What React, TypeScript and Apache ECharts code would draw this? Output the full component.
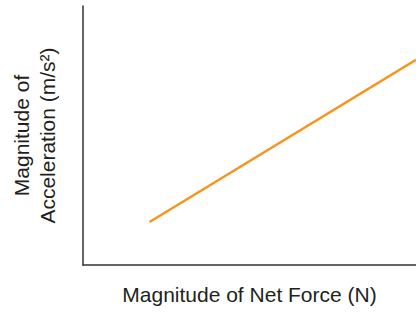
import React, { useEffect, useRef } from "react";
import * as echarts from "echarts";

const forceValues = [2, 10];
const accelValues = [1.66, 7.92];
const xTitle = "Magnitude of Net Force (N)";
const yTitle = "Magnitude of\nAcceleration (m/s²)";

const FONT = "Liberation Sans, Arial, sans-serif";

export default function App() {
  const ref = useRef<HTMLDivElement>(null);
  useEffect(() => {
    const chart = echarts.init(ref.current!, null, { renderer: "svg" });
    const data = forceValues.map((x, i) => [x, accelValues[i]]);
    chart.setOption({
      animation: false,
      grid: { left: 82, right: 0, top: 6, bottom: 47 },
      xAxis: {
        type: "value",
        min: 0,
        max: 10,
        name: xTitle,
        nameLocation: "middle",
        nameGap: 19,
        nameTextStyle: { fontFamily: FONT, fontSize: 21, color: "#231f20", verticalAlign: "top" },
        axisLine: { show: true, lineStyle: { color: "#333", width: 1.5 } },
        axisTick: { show: false },
        axisLabel: { show: false },
        splitLine: { show: false },
      },
      yAxis: {
        type: "value",
        min: 0,
        max: 10,
        name: yTitle,
        nameLocation: "middle",
        nameGap: 23,
        nameTextStyle: { fontFamily: FONT, fontSize: 21, lineHeight: 26, color: "#231f20" },
        axisLine: { show: true, lineStyle: { color: "#333", width: 1.5 } },
        axisTick: { show: false },
        axisLabel: { show: false },
        splitLine: { show: false },
      },
      series: [
        {
          type: "line",
          data,
          symbol: "none",
          lineStyle: { color: "#f7941d", width: 2.5 },
        },
      ],
    });
    return () => chart.dispose();
  }, []);
  return <div ref={ref} style={{ width: 416, height: 312, position: "absolute", left: 0, top: 0 }} />;
}
